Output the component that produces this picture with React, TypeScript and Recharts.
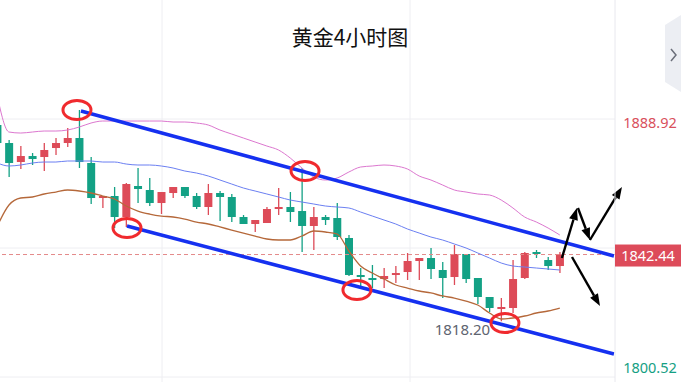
import React from "react";
import { ComposedChart, Bar, Line, XAxis, YAxis, CartesianGrid, ReferenceLine, ReferenceDot } from "recharts";

// 4h candles, index -1 is the partially visible one on the left edge
const idx = [-1, 0, 1, 2, 3, 4, 5, 6, 7, 8, 9, 10, 11, 12, 13, 14, 15, 16, 17, 18, 19, 20, 21, 22, 23, 24, 25, 26, 27, 28, 29, 30, 31, 32, 33, 34, 35, 36, 37, 38, 39, 40, 41, 42, 43, 44, 45, 46, 47];
const opens = [1889.54, 1882.99, 1876.08, 1878.26, 1877.9, 1881.17, 1882.99, 1884.81, 1875.72, 1862.99, 1863.72, 1856.08, 1867.36, 1865.9, 1861.17, 1864.81, 1866.99, 1863.72, 1859.72, 1864.81, 1863.36, 1856.08, 1853.54, 1853.9, 1858.99, 1859.72, 1858.26, 1852.81, 1856.08, 1855.72, 1848.45, 1834.99, 1833.9, 1833.53, 1834.99, 1836.08, 1840.08, 1841.17, 1836.81, 1834.26, 1842.63, 1833.9, 1826.99, 1822.62, 1822.99, 1833.9, 1843.35, 1840.44, 1838.26];
const closes = [1882.99, 1875.72, 1878.26, 1877.17, 1880.45, 1882.99, 1884.81, 1876.08, 1862.99, 1863.72, 1856.08, 1868.08, 1866.26, 1861.17, 1865.17, 1866.99, 1863.72, 1859.72, 1864.81, 1863.36, 1856.08, 1853.54, 1854.99, 1858.99, 1859.72, 1857.9, 1852.81, 1856.08, 1854.99, 1848.81, 1834.99, 1834.26, 1833.17, 1834.63, 1835.71, 1840.08, 1841.17, 1837.17, 1833.9, 1842.63, 1833.53, 1826.99, 1822.99, 1823.35, 1833.53, 1842.99, 1842.63, 1838.26, 1842.44];
const highs = [1890.63, 1884.08, 1881.9, 1879.35, 1882.99, 1884.81, 1888.44, 1894.99, 1877.9, 1863.72, 1866.99, 1868.44, 1873.9, 1870.26, 1865.17, 1866.99, 1866.99, 1864.81, 1868.08, 1865.54, 1864.45, 1856.81, 1854.99, 1859.72, 1866.63, 1865.17, 1873.9, 1859.72, 1856.81, 1861.17, 1849.54, 1837.53, 1838.63, 1837.53, 1838.26, 1842.99, 1841.17, 1844.81, 1839.72, 1845.9, 1842.63, 1833.9, 1826.99, 1826.62, 1840.44, 1843.35, 1844.08, 1841.54, 1843.35];
const lows = [1881.9, 1870.63, 1873.54, 1874.99, 1872.81, 1878.63, 1881.54, 1873.9, 1860.81, 1859.36, 1852.08, 1852.45, 1861.17, 1860.08, 1857.17, 1862.99, 1862.99, 1858.99, 1856.81, 1854.63, 1854.26, 1853.54, 1850.63, 1853.9, 1856.81, 1854.26, 1843.35, 1844.08, 1853.17, 1847.72, 1834.63, 1830.62, 1830.26, 1830.26, 1832.08, 1833.17, 1833.17, 1833.53, 1826.62, 1831.35, 1832.08, 1824.44, 1821.53, 1818.2, 1821.17, 1833.53, 1841.17, 1836.81, 1835.71];

// indicator lines
const upperBand = [1900.08, 1886.99, 1886.62, 1886.99, 1887.35, 1887.35, 1887.72, 1888.81, 1890.26, 1890.99, 1890.99, 1890.99, 1890.99, 1890.99, 1890.99, 1890.63, 1890.63, 1890.26, 1889.54, 1887.72, 1886.26, 1884.81, 1883.35, 1881.9, 1880.45, 1877.54, 1873.9, 1870.63, 1869.54, 1870.26, 1872.44, 1874.26, 1874.63, 1874.99, 1874.63, 1873.54, 1870.99, 1869.54, 1867.72, 1865.9, 1865.17, 1864.45, 1864.08, 1862.26, 1859.36, 1856.08, 1854.26, 1852.08, 1849.54];
const midBand = [1875.72, 1874.63, 1874.99, 1875.72, 1876.08, 1876.08, 1876.45, 1876.45, 1876.45, 1876.08, 1876.08, 1875.35, 1874.99, 1874.99, 1874.63, 1873.9, 1872.81, 1872.08, 1870.99, 1869.54, 1868.08, 1866.63, 1865.54, 1864.45, 1863.36, 1862.26, 1861.53, 1860.81, 1860.08, 1859.72, 1859.36, 1857.9, 1856.44, 1854.99, 1853.54, 1851.72, 1850.26, 1848.81, 1847.72, 1846.27, 1844.81, 1842.99, 1841.17, 1839.35, 1838.26, 1837.9, 1837.53, 1837.17, 1836.81];
const slowLine = [1852.81, 1860.44, 1862.99, 1863.36, 1864.45, 1865.17, 1865.9, 1865.54, 1864.81, 1863.72, 1862.63, 1860.08, 1858.26, 1857.17, 1856.44, 1856.08, 1855.35, 1854.26, 1853.54, 1852.45, 1851.35, 1850.26, 1849.17, 1848.08, 1847.72, 1847.72, 1849.17, 1850.99, 1850.63, 1849.9, 1843.72, 1838.26, 1835.71, 1833.53, 1831.35, 1830.26, 1829.17, 1828.45, 1827.36, 1826.62, 1825.53, 1824.08, 1821.17, 1818.99, 1819.35, 1820.08, 1821.17, 1821.9, 1822.99];

const priceTicks = [1888.92, 1842.44, 1800.52];
const lastPrice = 1842.44;
const lowPoint = { x: 42, y: 1818.2 };

// hand drawn annotations (index, price)
const channelTop = [{ x: 6.14, y: 1894.63 }, { x: 51.62, y: 1841.9 }];
const channelBottom = [{ x: 10.07, y: 1852.81 }, { x: 51.62, y: 1806.26 }];
const circles = [
  { x: 5.8, y: 1894.99 },
  { x: 10.07, y: 1852.08 },
  { x: 25.26, y: 1872.81 },
  { x: 29.69, y: 1829.54 },
  { x: 42.32, y: 1817.54 },
];
const arrows = [
  [{ x: 47.18, y: 1841.17 }, { x: 48.46, y: 1859.36 }],
  [{ x: 48.55, y: 1859.36 }, { x: 49.57, y: 1847.72 }],
  [{ x: 49.57, y: 1847.72 }, { x: 52.3, y: 1866.99 }],
  [{ x: 48.04, y: 1841.54 }, { x: 50.43, y: 1823.72 }],
];

const UP = "#dd4b58";
const DOWN = "#13a185";

const data = idx.map((i, k) => ({
  i,
  open: opens[k],
  close: closes[k],
  high: highs[k],
  low: lows[k],
  range: [lows[k], highs[k]],
  upper: upperBand[k],
  mid: midBand[k],
  slow: slowLine[k],
}));

function Candle(props: any) {
  const { x, y, width, height, payload } = props;
  const top = Math.min(y, y + height);
  const h = Math.abs(height);
  const span = payload.high - payload.low || 1;
  const toY = (v: number) => top + ((payload.high - v) / span) * h;
  const up = payload.close > payload.open;
  const color = up ? UP : DOWN;
  const cx = x + width / 2;
  const y1 = toY(Math.max(payload.open, payload.close));
  const y2 = toY(Math.min(payload.open, payload.close));
  return (
    <g>
      <line x1={cx} x2={cx} y1={top} y2={top + h} stroke={color} strokeWidth={1.3} />
      <rect x={x} y={y1} width={width} height={Math.max(y2 - y1, 1.5)} fill={color} />
    </g>
  );
}

function Arrow(props: any) {
  const { x1, y1, x2, y2 } = props;
  const dx = x2 - x1;
  const dy = y2 - y1;
  const len = Math.sqrt(dx * dx + dy * dy);
  const ux = dx / len;
  const uy = dy / len;
  const hl = 12;
  const hw = 4.5;
  const bx = x2 - ux * hl;
  const by = y2 - uy * hl;
  return (
    <g>
      <line x1={x1} y1={y1} x2={bx} y2={by} stroke="#000" strokeWidth={2.4} />
      <polygon
        points={`${x2},${y2} ${bx - uy * hw},${by + ux * hw} ${bx + uy * hw},${by - ux * hw}`}
        fill="#000"
      />
    </g>
  );
}

function PriceTick(props: any) {
  const { y, payload } = props;
  const v = payload.value;
  if (v === lastPrice) {
    return (
      <g>
        <rect x={615} y={y - 10} width={66} height={22} fill="#dd4b5a" />
        <text x={648} y={y + 6} textAnchor="middle" fill="#fff" fontSize={14.5} fontFamily="Noto Sans">
          {v.toFixed(2)}
        </text>
      </g>
    );
  }
  const color = v > lastPrice ? "#d9505c" : "#14a083";
  const dy = v > lastPrice ? 1 : 3;
  return (
    <text x={650} y={y + dy} textAnchor="middle" fill={color} fontSize={14.5} fontFamily="Noto Sans">
      {v.toFixed(2)}
    </text>
  );
}

export default function App() {
  return (
    <div style={{ position: "absolute", left: 0, top: 0, width: 681, height: 382, background: "#fff" }}>
      <ComposedChart width={681} height={382} data={data} margin={{ top: 0, right: 0, bottom: 0, left: 0 }}>
        <CartesianGrid stroke="#eeeef2" horizontalPoints={[119, 248, 377]} verticalPoints={[162, 410]} />
        <XAxis dataKey="i" type="number" domain={[-0.768, 51.71]} hide allowDataOverflow />
        <YAxis
          orientation="right"
          width={66}
          domain={[1796.08, 1935.0]}
          allowDataOverflow
          ticks={priceTicks}
          interval={0}
          tick={<PriceTick />}
          tickLine={false}
          axisLine={{ stroke: "#e8e8ee" }}
        />
        <ReferenceLine y={lastPrice} stroke="#e48a8a" strokeDasharray="4 3" />
        <Line dataKey="upper" type="monotone" stroke="#dc77cf" strokeWidth={1} dot={false} isAnimationActive={false} />
        <Line dataKey="mid" type="monotone" stroke="#6b7ff2" strokeWidth={1} dot={false} isAnimationActive={false} />
        <Line dataKey="slow" type="monotone" stroke="#b5683a" strokeWidth={1.3} dot={false} isAnimationActive={false} />
        <Bar dataKey="range" barSize={8} shape={<Candle />} isAnimationActive={false} />
        <ReferenceLine segment={channelTop} stroke="#1530f0" strokeWidth={3.5} ifOverflow="visible" />
        <ReferenceLine segment={channelBottom} stroke="#1530f0" strokeWidth={3.5} ifOverflow="visible" />
        {circles.map((c, k) => (
          <ReferenceDot
            key={k}
            x={c.x}
            y={c.y}
            ifOverflow="visible"
            shape={(p: any) => (
              <ellipse cx={p.cx} cy={p.cy} rx={14} ry={9.5} fill="none" stroke="#f02a2e" strokeWidth={3} />
            )}
          />
        ))}
        <ReferenceDot
          x={lowPoint.x}
          y={lowPoint.y}
          ifOverflow="visible"
          shape={(p: any) => (
            <text x={p.cx - 11} y={p.cy + 14} textAnchor="end" fill="#5e6470" fontSize={15} fontFamily="Noto Sans">
              {lowPoint.y.toFixed(2)}
            </text>
          )}
        />
        {arrows.map((a, k) => (
          <ReferenceLine key={"a" + k} segment={a} ifOverflow="visible" shape={(p: any) => <Arrow {...p} />} />
        ))}
      </ComposedChart>
      <div
        style={{
          position: "absolute",
          left: 350,
          top: 24,
          transform: "translateX(-50%)",
          fontFamily: "'Noto Sans CJK SC'",
          fontSize: 21,
          color: "#111",
          whiteSpace: "nowrap",
          lineHeight: "24px",
        }}
      >
        黄金4小时图
      </div>
      <div
        style={{
          position: "absolute",
          left: 665,
          top: 15,
          width: 16,
          height: 77,
          background: "#eceef3",
          clipPath: "polygon(0 10px, 100% 0, 100% 100%, 0 calc(100% - 10px))",
        }}
      >
        <svg width={16} height={77}>
          <polyline points="6,34 11,40 6,46" fill="none" stroke="#6b6f7a" strokeWidth={1.5} />
        </svg>
      </div>
    </div>
  );
}
